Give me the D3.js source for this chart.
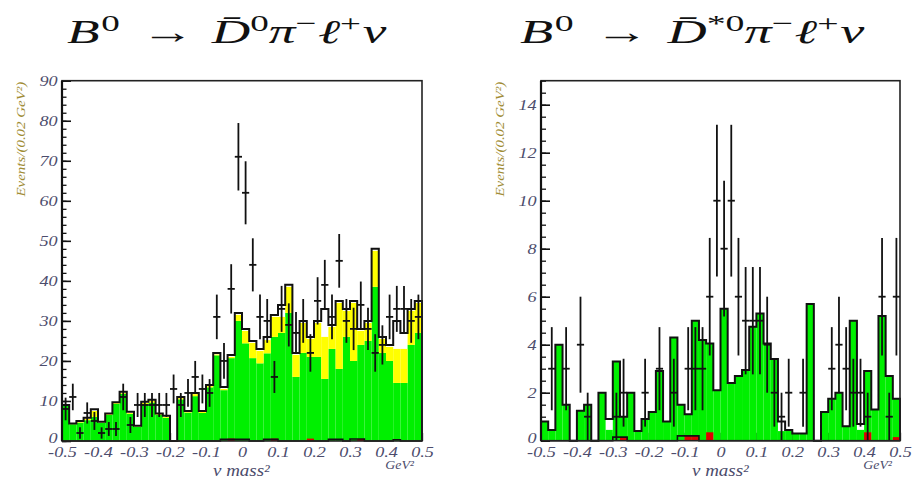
<!DOCTYPE html>
<html><head><meta charset="utf-8">
<script src="https://cdn.jsdelivr.net/npm/d3@7"></script>
<style>body{margin:0;background:#fff}svg{display:block}</style>
</head><body>
<svg id="chart" width="924" height="480"></svg>
<script>
// ν mass² histograms: 50 bins of 0.02 GeV² from -0.5 to 0.5
const massBinLow = d3.range(50).map(i => -0.5 + 0.02 * i);
const binWidth = 0.02;

// B0 -> D0bar pi- l+ nu
const dpiData  = [8,11,2,7,5,2,3,3,11,4,9,9,9,9,9,13,9,12,16,13,12,31,20,38,71,62,44,31,30,16,33,29,27,30,22,35,39,31,45,30,28,34,28,22,24,31,33,33,30,31];
const dpiTotal = [9,4.4,5,5.8,7.9,4.8,6.9,9.7,12.3,7.3,3.8,9.8,10.3,6.9,6.3,0,11,7.5,12,7.5,14,22,13.5,21.5,32,28,25,23,26,31.5,34,39,22,30,26,30,33,29,35,33,35,28,30,48,26,24,30,27,33,35];
const dpiYellow = [9,4.3,4.8,5.5,7.5,4.6,6.7,9.5,12,7,3.6,9.5,10,6.7,6,0,10.7,7.3,11.7,7.3,13.7,21.6,13,21,31.5,27.5,24.5,22.5,25.2,31,31,38.5,21.5,29.5,25.5,29.5,26,28.5,34.5,32.5,34.5,27.5,29.5,47.5,25.5,23.5,23,23,32.5,34.5];
const dpiGreen = [9,4.2,4.6,5.2,6,4.5,6.5,9.3,11.8,6.8,3.5,9.2,9.6,6.5,5.8,0,10.4,7.1,11.2,7,13.4,21.4,12.7,20.7,30,24.4,20.7,19.4,21.9,26,27,32,16,22,21,21,15.5,23,18,26,20,24,25,38.5,22,20,14.5,14.5,24,27];
const dpiRed   = [0,0,0,0,0,0,0,0,0,0,0,0,0,0,0,0,0,0,0,0,0,0,0,0.6,0,0,0,0,0,0.6,0,0,0,0,0.6,0,0,0,0,0,0,0.5,0,0,0,0,0,0,0,0];
const dpiSmall = [0,0,0,0,0,0,0,0,0,0,0,0,0,0,0,0,0,0,0,0,0,0,0.4,0.4,0.4,0.4,0,0,0.4,0.4,0,0,0,0,0,0,0,0.4,0.4,0,0.5,0.5,0,0,0,0,0.3,0,0,0];

// B0 -> D*0bar pi- l+ nu
const dstData  = [0,3,0,3,0,4,1,0,0,0,1,2,0,0,2,0,3,0,2,0,3,3,3,6,10,8,10,6,5,5,5,4,2,1,2,0,2,0,0,0,3,4,3,2,2,1,0,6,1,6];
const dstGreen = [0.8,0.45,4.0,1.5,0,1.25,1.5,0,2,0.45,3.3,1.0,2,0.4,0.9,1.2,2.9,0.8,4.3,1.5,1.1,5,4.2,4.05,2.1,5.5,2.4,2.7,2.95,4.75,5.3,4.05,3.4,0.4,0.45,0.3,0.3,5.7,0,1.2,1.75,2,0.6,5.0,0.45,2.9,1.3,5.2,2.7,1.75];
const dstTotal = [0.8,0.45,4.0,1.5,0,1.25,1.5,0,2,0.9,3.3,1.0,2,0.4,0.9,1.2,2.9,0.8,4.3,1.5,1.1,5,4.2,4.05,2.1,5.5,2.4,2.7,2.95,4.75,5.3,4.05,3.4,0.8,0.45,0.3,0.3,5.7,0,1.2,1.75,2,0.6,5.0,0.7,2.9,1.3,5.2,2.7,1.75];
const dstRed   = [0,0,0,0,0,0,0,0,0,0,0,0.15,0,0,0,0,0,0,0,0,0.2,0.2,0,0.35,0,0,0,0,0,0,0,0,0,0,0,0,0,0,0,0,0,0,0,0,0,0.35,0,0,0,0.15];
const dstSmall = [0,0,0,0,0,0,0,0,0,0,0.15,0.15,0,0,0,0,0,0,0,0.2,0.2,0.2,0,0,0,0,0,0,0,0,0,0,0,0,0,0,0,0,0,0,0,0,0,0,0,0,0,0,0,0];

const xTickValues = [-0.5,-0.4,-0.3,-0.2,-0.1,0,0.1,0.2,0.3,0.4,0.5];
const xTickLabels = ["-0.5","-0.4","-0.3","-0.2","-0.1","0","0.1","0.2","0.3","0.4","0.5"];
const dpiYTicks = [0,10,20,30,40,50,60,70,80,90];
const dstYTicks = [0,2,4,6,8,10,12,14];

const svg = d3.select("#chart");
const SERIF = "'Liberation Serif','DejaVu Serif',serif";
const LABEL = "#4c4c6c";
const WIDE = 1.3; // horizontal stretch of the axis lettering

// Decay-channel title, stretched horizontally so its ink spans `width`
function drawTitle(x, y, pieces, width) {
  const t = svg.append("text").attr("x", 0).attr("y", 0)
    .attr("font-family", SERIF).attr("font-size", 33).attr("fill", "#111");
  let lift = 0;
  pieces.forEach(p => {
    const s = t.append("tspan").text(p.t);
    if (p.i) s.attr("font-style", "italic");
    const target = p.sup ? -12 : 0;
    if (target !== lift) { s.attr("dy", target - lift); lift = target; }
    if (p.sup) s.attr("font-size", 23);
    if (p.gap) s.attr("dx", p.gap);
  });
  const bb = t.node().getBBox();
  const k = width / bb.width;
  t.attr("transform", `translate(${x - bb.x * k},${y}) scale(${k},1)`);
}

function panel(o) {
  const g = svg.append("g");
  const x = d3.scaleLinear().domain([-0.5, 0.5]).range([o.x0, o.x1]);
  const y = d3.scaleLinear().domain([0, o.yMax]).range([o.yb, o.yt]);

  // inward ticks on the left axis
  g.append("g").attr("transform", `translate(${o.x0},0)`)
    .call(d3.axisRight(y).tickValues(o.minor).tickSize(o.minorLen).tickFormat(""))
    .call(a => a.select(".domain").remove())
    .call(a => a.selectAll("line").attr("stroke", "#111").attr("stroke-width", 1.3));
  g.append("g").attr("transform", `translate(${o.x0},0)`)
    .call(d3.axisRight(y).tickValues(o.yTicks).tickSize(9).tickFormat(""))
    .call(a => a.select(".domain").remove())
    .call(a => a.selectAll("line").attr("stroke", "#111").attr("stroke-width", 1.6));
  g.append("g").attr("transform", `translate(${o.x0 - 3},0)`)
    .call(d3.axisLeft(y).tickValues(o.yTicks).tickSize(0).tickFormat(d3.format("d")))
    .call(a => a.select(".domain").remove())
    .call(a => a.selectAll("text").attr("font-family", SERIF).attr("font-style", "italic")
      .attr("font-size", 14).attr("fill", LABEL).attr("x", -1)
      .attr("transform", `scale(${WIDE},1)`)
      .attr("dy", d => d === 0 ? "0.1em" : "0.34em"));
  // x axis ticks (inside) and labels
  g.append("g").attr("transform", `translate(0,${o.yb})`)
    .call(d3.axisTop(x).tickValues(xTickValues).tickSize(8).tickFormat(""))
    .call(a => a.select(".domain").remove())
    .call(a => a.selectAll("line").attr("stroke", "#111").attr("stroke-width", 1.3));
  g.append("g").attr("transform", `translate(0,${o.yb + 3})`)
    .call(d3.axisBottom(x).tickValues(xTickValues).tickSize(0).tickFormat((d, i) => xTickLabels[i]))
    .call(a => a.select(".domain").remove())
    .call(a => a.selectAll("text").attr("font-family", SERIF).attr("font-style", "italic")
      .attr("font-size", 14).attr("fill", LABEL).attr("transform", `scale(${WIDE},1)`));

  const bins = massBinLow.map((lo, i) => ({ lo, hi: lo + binWidth, i }));

  // stacked fills
  g.append("g").selectAll("rect").data(bins).join("rect")
    .attr("x", d => x(d.lo)).attr("width", d => x(d.hi) - x(d.lo))
    .attr("y", d => y(o.green[d.i])).attr("height", d => y(0) - y(o.green[d.i]))
    .attr("fill", "#00f000");
  if (o.yellow) {
    g.append("g").selectAll("rect").data(bins).join("rect")
      .attr("x", d => x(d.lo)).attr("width", d => x(d.hi) - x(d.lo))
      .attr("y", d => y(o.yellow[d.i])).attr("height", d => Math.max(0, y(o.green[d.i]) - y(o.yellow[d.i])))
      .attr("fill", "#ffff00");
  }
  g.append("g").selectAll("rect").data(bins.filter(d => o.red[d.i] > 0)).join("rect")
    .attr("x", d => x(d.lo)).attr("width", d => x(d.hi) - x(d.lo))
    .attr("y", d => y(o.red[d.i])).attr("height", d => y(0) - y(o.red[d.i]))
    .attr("fill", "#e00000");

  const stepPath = vals => {
    const p = d3.path();
    p.moveTo(x(-0.5), y(0));
    bins.forEach(d => { p.lineTo(x(d.lo), y(vals[d.i])); p.lineTo(x(d.hi), y(vals[d.i])); });
    p.lineTo(x(0.5), y(0));
    return p.toString();
  };
  g.append("path").attr("d", stepPath(o.small)).attr("fill", "none")
    .attr("stroke", "#111").attr("stroke-width", 1.6);
  g.append("path").attr("d", stepPath(o.total)).attr("fill", "none")
    .attr("stroke", "#111").attr("stroke-width", 2).attr("stroke-linejoin", "miter");

  // data points with sqrt(N) errors
  const pts = bins.filter(d => o.data[d.i] > 0);
  const eg = g.append("g").attr("stroke", "#111").attr("stroke-width", 1.8);
  eg.selectAll("line.v").data(pts).join("line").attr("class", "v")
    .attr("x1", d => x(d.lo + binWidth / 2)).attr("x2", d => x(d.lo + binWidth / 2))
    .attr("y1", d => y(Math.min(o.yMax, o.data[d.i] + Math.sqrt(o.data[d.i]))))
    .attr("y2", d => y(Math.max(0, o.data[d.i] - Math.sqrt(o.data[d.i]))));
  eg.selectAll("line.h").data(pts).join("line").attr("class", "h")
    .attr("x1", d => x(d.lo)).attr("x2", d => x(d.hi))
    .attr("y1", d => y(o.data[d.i])).attr("y2", d => y(o.data[d.i]));

  // frame
  g.append("rect").attr("x", o.x0).attr("y", o.yt).attr("width", o.x1 - o.x0).attr("height", o.yb - o.yt)
    .attr("fill", "none").attr("stroke", "#222").attr("stroke-width", 1.6);
  g.append("line").attr("x1", o.x0).attr("x2", o.x0).attr("y1", o.yt).attr("y2", o.yb)
    .attr("stroke", "#111").attr("stroke-width", 2.2);

  // axis titles
  g.append("text").attr("transform", `translate(${o.x0 - 37},${o.yt + 1}) rotate(-90) scale(${WIDE},1)`)
    .attr("text-anchor", "end").attr("font-family", SERIF).attr("font-style", "italic")
    .attr("font-size", 11.5).attr("fill", "#a08c34")
    .text("Events/(0.02 GeV²)");
  g.append("text").attr("transform", `translate(${o.x0 + 151},476) scale(1.15,1)`)
    .attr("font-family", SERIF).attr("font-style", "italic").attr("font-size", 16.5).attr("fill", LABEL)
    .text("ν mass²");
  g.append("text").attr("transform", `translate(${o.x1 - 8},469) scale(1.15,1)`).attr("text-anchor", "end")
    .attr("font-family", SERIF).attr("font-style", "italic").attr("font-size", 12).attr("fill", LABEL)
    .text("GeV²");
}

panel({ x0: 62, x1: 422, yt: 80.7, yb: 441, yMax: 90, yTicks: dpiYTicks,
  minor: d3.range(0, 91, 2), minorLen: 4.5,
  data: dpiData, total: dpiTotal, yellow: dpiYellow, green: dpiGreen, red: dpiRed, small: dpiSmall });
panel({ x0: 541, x1: 900, yt: 80.7, yb: 440.7, yMax: 15, yTicks: dstYTicks,
  minor: d3.range(0, 15.01, 0.5), minorLen: 5,
  data: dstData, total: dstTotal, yellow: null, green: dstGreen, red: dstRed, small: dstSmall });

drawTitle(67, 43, [
  { t: "B", i: 1 }, { t: "0", sup: 1, gap: 1 }, { t: "\u2192", gap: 13 }, { t: "D\u0304", i: 1, gap: 11 }, { t: "0", sup: 1 },
  { t: "\u03c0", i: 1 }, { t: "\u2212", sup: 1 }, { t: "\u2113", i: 1, gap: 1 }, { t: "+", sup: 1 }, { t: "\u03bd", i: 1, gap: 1 }
], 320);
drawTitle(520, 43, [
  { t: "B", i: 1 }, { t: "0", sup: 1, gap: 1 }, { t: "\u2192", gap: 13 }, { t: "D\u0304", i: 1, gap: 11 }, { t: "*0", sup: 1 },
  { t: "\u03c0", i: 1 }, { t: "\u2212", sup: 1 }, { t: "\u2113", i: 1, gap: 1 }, { t: "+", sup: 1 }, { t: "\u03bd", i: 1, gap: 1 }
], 345);
</script>
</body></html>
